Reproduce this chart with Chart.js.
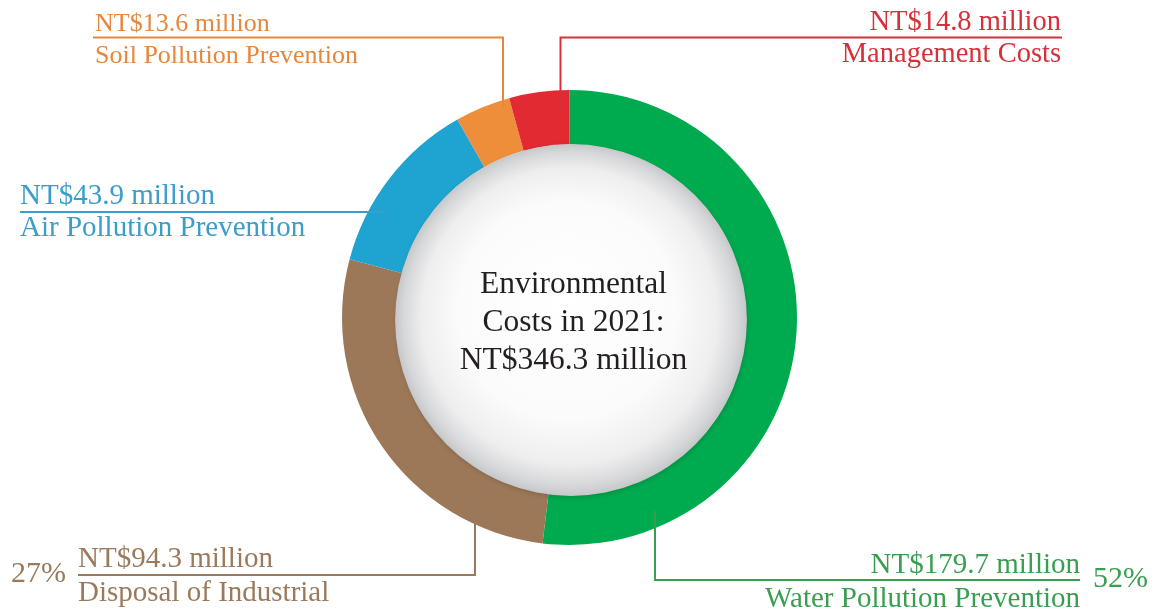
<!DOCTYPE html>
<html>
<head>
<meta charset="utf-8">
<script src="https://cdn.jsdelivr.net/npm/chart.js@4.4.1/dist/chart.umd.min.js"></script>
<style>
  html, body { margin: 0; padding: 0; background: #ffffff; overflow: hidden; }
  #costChart { display: block; }
</style>
</head>
<body>
<canvas id="costChart" width="1155" height="613"></canvas>
<script>
// Environmental costs 2021, NT$ million
const categories = ['Water Pollution Prevention', 'Disposal of Industrial', 'Air Pollution Prevention', 'Soil Pollution Prevention', 'Management Costs'];
const amounts = [179.7, 94.3, 43.9, 13.6, 14.8];
const centerTitle = ['Environmental', 'Costs in 2021:'];

const sliceColors = ['#00ab4f', '#9c7858', '#1fa3d0', '#ee8e3a', '#e12a32'];
const textColors = ['#3a9e52', '#9a7a5c', '#3a9dcb', '#e8873a', '#d7303b'];

// where each callout sits (label text, rule line, elbow into the ring)
const calloutLayout = [
  { align: 'right', x: 1080, valueY: 573, nameY: 607, lineY: 580, lineEnd: 1080, elbowX: 655, dir: 'down', inset: 16, font: 29, pct: { x: 1093, y: 587, align: 'left' } },
  { align: 'left', x: 78, valueY: 567, nameY: 601, lineY: 575, lineEnd: 78, elbowX: 475, dir: 'down', inset: 26, font: 29, pct: { x: 66, y: 582, align: 'right' } },
  { align: 'left', x: 20, valueY: 204, nameY: 236, lineY: 212, lineEnd: 20, elbowX: null, dir: 'left', inset: 15, font: 29 },
  { align: 'left', x: 95, valueY: 31, nameY: 63, lineY: 37.5, lineEnd: 93, elbowX: 503, dir: 'up', inset: 6, font: 26 },
  { align: 'right', x: 1061, valueY: 29.5, nameY: 62, lineY: 37.5, lineEnd: 1062, elbowX: 560.5, dir: 'up', inset: 17, font: 28.5 }
];

const total = amounts.reduce((a, b) => a + b, 0);
const serif = '"Liberation Serif", "Times New Roman", serif';

// sphere, centre text and callouts drawn on top of the ring
const decorPlugin = {
  id: 'decor',
  afterDatasetsDraw(chart) {
    const ctx = chart.ctx;
    const arcs = chart.getDatasetMeta(0).data;
    const first = arcs[0];
    const cx = first.x;
    const cy = first.y;
    const outer = first.outerRadius;
    const inner = first.innerRadius;

    // white ball in the middle
    const bx = cx + 1.5;
    const by = cy + 2.5;
    const br = inner + 3;
    ctx.save();
    ctx.shadowColor = 'rgba(0,0,0,0.15)';
    ctx.shadowBlur = 5;
    ctx.shadowOffsetX = 1;
    ctx.shadowOffsetY = 2;
    const grad = ctx.createRadialGradient(bx - 10, by - 25, 0, bx, by, br);
    grad.addColorStop(0, '#ffffff');
    grad.addColorStop(0.62, '#fbfbfb');
    grad.addColorStop(0.84, '#eeeeef');
    grad.addColorStop(0.95, '#d6d7d9');
    grad.addColorStop(1, '#c6c7c9');
    ctx.fillStyle = grad;
    ctx.beginPath();
    ctx.arc(bx, by, br, 0, Math.PI * 2);
    ctx.fill();
    ctx.restore();

    // centre text
    ctx.save();
    ctx.fillStyle = '#231f20';
    ctx.font = '31.5px ' + serif;
    ctx.textAlign = 'center';
    ctx.textBaseline = 'alphabetic';
    const lines = centerTitle.concat(['NT$' + total.toFixed(1) + ' million']);
    lines.forEach((t, i) => ctx.fillText(t, cx + 4, cy - 25 + i * 38));
    ctx.restore();

    // callouts
    calloutLayout.forEach((c, i) => {
      const col = textColors[i];
      const r = outer - c.inset;
      ctx.save();
      ctx.strokeStyle = col;
      ctx.lineWidth = 2;
      ctx.beginPath();
      if (c.dir === 'left') {
        const endX = cx - Math.sqrt(r * r - (c.lineY - cy) * (c.lineY - cy));
        ctx.moveTo(c.lineEnd, c.lineY);
        ctx.lineTo(endX, c.lineY);
      } else {
        const dx = c.elbowX - cx;
        const dy = Math.sqrt(r * r - dx * dx);
        const endY = c.dir === 'up' ? cy - dy : cy + dy;
        ctx.moveTo(c.lineEnd, c.lineY);
        ctx.lineTo(c.elbowX, c.lineY);
        ctx.lineTo(c.elbowX, endY);
      }
      ctx.stroke();

      ctx.fillStyle = col;
      ctx.font = c.font + 'px ' + serif;
      ctx.textAlign = c.align;
      ctx.textBaseline = 'alphabetic';
      ctx.fillText('NT$' + amounts[i].toFixed(1) + ' million', c.x, c.valueY);
      ctx.fillText(categories[i], c.x, c.nameY);
      if (c.pct) {
        ctx.font = '30px ' + serif;
        ctx.textAlign = c.pct.align;
        ctx.fillText(Math.round(amounts[i] / total * 100) + '%', c.pct.x, c.pct.y);
      }
      ctx.restore();
    });
  }
};

const chart = new Chart(document.getElementById('costChart'), {
  type: 'doughnut',
  data: {
    labels: categories,
    datasets: [{
      data: amounts,
      backgroundColor: sliceColors,
      borderWidth: 0,
      hoverOffset: 0
    }]
  },
  options: {
    responsive: false,
    animation: false,
    cutout: '76%',
    rotation: 0,
    layout: { padding: { left: 342, right: 358, top: 90, bottom: 68 } },
    plugins: {
      legend: { display: false },
      tooltip: { enabled: false }
    }
  },
  plugins: [decorPlugin]
});
</script>
</body>
</html>
